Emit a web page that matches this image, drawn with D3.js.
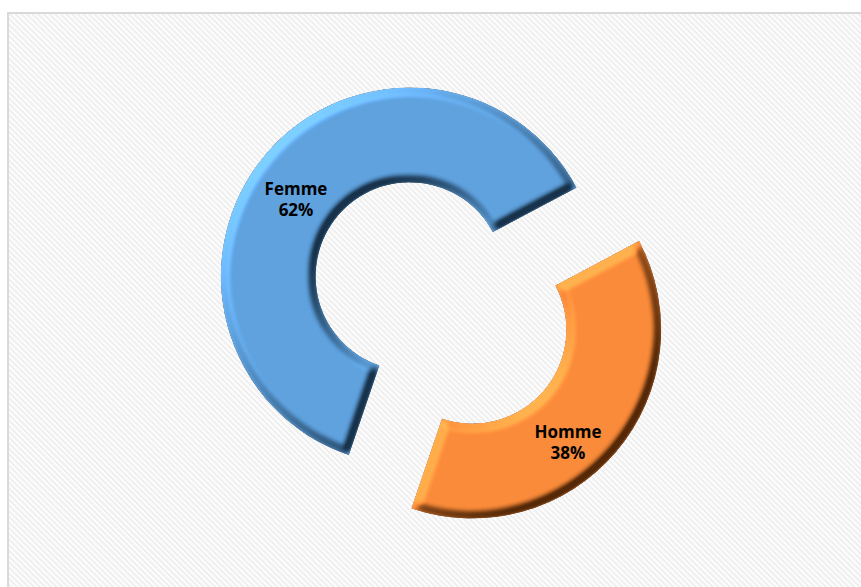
<!DOCTYPE html>
<html>
<head>
<meta charset="utf-8">
<script src="https://cdn.jsdelivr.net/npm/d3@7"></script>
<style>
  html, body { margin: 0; padding: 0; background: #ffffff; }
  svg { display: block; }
</style>
</head>
<body>
<svg id="chart" width="861" height="587"></svg>
<script>
// Répartition par sexe
const categories = ["Femme", "Homme"];
const values = [62, 38];
const labels = ["62%", "38%"];
const colors = ["#5FA2DF", "#FA8B3A"];

const W = 861, H = 587;
const svg = d3.select("#chart");
const defs = svg.append("defs");

// Light diagonal hatching for the chart area
const pat = defs.append("pattern")
  .attr("id", "hatch")
  .attr("patternUnits", "userSpaceOnUse")
  .attr("width", 4).attr("height", 4)
  .attr("patternTransform", "rotate(-45)");
pat.append("rect").attr("width", 4).attr("height", 4).attr("fill", "#fdfdfd");
pat.append("rect").attr("width", 2).attr("height", 4).attr("fill", "#efefef");

// Bevel: lighting from the blurred shape alpha; darkening scales the fill,
// lightening adds a little white
const f = defs.append("filter").attr("id", "bevel")
  .attr("x", "-10%").attr("y", "-10%").attr("width", "120%").attr("height", "120%")
  .attr("color-interpolation-filters", "sRGB");
f.append("feMorphology").attr("in", "SourceAlpha").attr("operator", "erode").attr("radius", 3).attr("result", "er");
f.append("feGaussianBlur").attr("in", "er").attr("stdDeviation", 3).attr("result", "blur");
const dl = f.append("feDiffuseLighting").attr("in", "blur")
  .attr("surfaceScale", 5).attr("diffuseConstant", 0.707)
  .attr("lighting-color", "#ffffff").attr("result", "light");
dl.append("feDistantLight").attr("azimuth", 225).attr("elevation", 45);
f.append("feComposite").attr("in", "SourceGraphic").attr("in2", "light")
  .attr("operator", "arithmetic")
  .attr("k1", 1.2).attr("k2", 0.4).attr("k3", 0.12).attr("k4", -0.06).attr("result", "lit");
f.append("feComposite").attr("in", "lit").attr("in2", "SourceAlpha").attr("operator", "in");

// Chart area
svg.append("rect")
  .attr("x", 8).attr("y", 13).attr("width", W).attr("height", H)
  .attr("fill", "url(#hatch)")
  .attr("stroke", "#d9d9d9").attr("stroke-width", 2);

const cx = 441, cy = 303;
const outerR = 189, innerR = 94;
const explode = 41;

const deg = Math.PI / 180;
const pie = d3.pie().sort(null).startAngle(-161.2 * deg).endAngle((360 - 161.2) * deg);
const arcs = pie(values);
const arc = d3.arc().innerRadius(innerR).outerRadius(outerR);

// label nudges relative to each ring centroid
const labelNudge = [[-6, 13], [-12, 20]];

const g = svg.append("g").attr("transform", `translate(${cx},${cy})`);

const slice = g.selectAll("g.slice").data(arcs).join("g")
  .attr("class", "slice")
  .attr("transform", d => {
    const a = (d.startAngle + d.endAngle) / 2;
    return `translate(${explode * Math.sin(a)},${-explode * Math.cos(a)})`;
  });

slice.append("path")
  .attr("d", arc)
  .attr("fill", (d, i) => colors[i])
  .attr("filter", "url(#bevel)");

const text = slice.append("text")
  .attr("transform", (d, i) => {
    const [x, y] = arc.centroid(d);
    return `translate(${x + labelNudge[i][0]},${y + labelNudge[i][1]})`;
  })
  .attr("text-anchor", "middle")
  .attr("font-family", "'Open Sans', sans-serif")
  .attr("font-weight", "bold")
  .attr("font-size", 17)
  .attr("fill", "#000");
text.append("tspan").attr("x", 0).attr("y", -3).text((d, i) => categories[i]);
text.append("tspan").attr("x", 0).attr("y", 18).text((d, i) => labels[i]);
</script>
</body>
</html>
